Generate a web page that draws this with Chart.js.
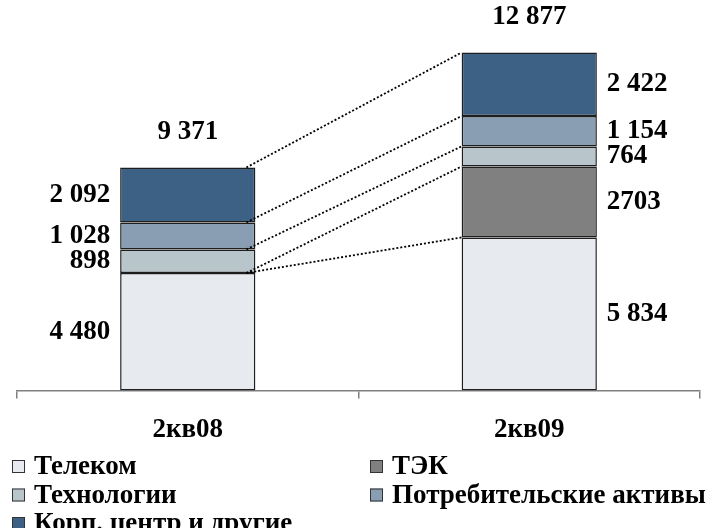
<!DOCTYPE html>
<html>
<head>
<meta charset="utf-8">
<script src="https://cdn.jsdelivr.net/npm/chart.js@4"></script>
<style>
  body { margin: 0; background: #fff; }
</style>
</head>
<body>
<canvas id="myChart" width="717" height="528"></canvas>
<script>
const quarters = ['2кв08', '2кв09'];
const telecom = [4480, 5834];
const energy = [null, 2703];
const tech = [898, 764];
const consumer = [1028, 1154];
const corporate = [2092, 2422];
const totals = [9371, 12877];

const FONT = '"Liberation Serif", "Times New Roman", serif';

function fmt(v) {
    return String(v).replace(/\B(?=(\d{3})+(?!\d))/g, ' ');
}

const labelsPlugin = {
    id: 'labels',
    afterDatasetsDraw(chart) {
        const ctx = chart.ctx;
        const sets = chart.data.datasets;
        ctx.save();

        // dotted connectors between the two stacks
        const pairs = {};
        sets.forEach((ds, i) => {
            if (ds.data[0] == null || ds.data[1] == null) return;
            const [a, b] = chart.getDatasetMeta(i).data;
            [[a.y, b.y], [a.base, b.base]].forEach(p => {
                if (p[0] >= chart.chartArea.bottom - 1 && p[1] >= chart.chartArea.bottom - 1) return;
                pairs[Math.round(p[0]) + '_' + Math.round(p[1])] = p;
            });
        });
        const m = chart.getDatasetMeta(0).data;
        const x1 = m[0].x + m[0].width / 2 - 9;
        const x2 = m[1].x - m[1].width / 2;
        ctx.strokeStyle = '#000';
        ctx.lineWidth = 1.8;
        ctx.setLineDash([2, 2]);
        Object.values(pairs).forEach(p => {
            ctx.beginPath();
            ctx.moveTo(x1, p[0]);
            ctx.lineTo(x2, p[1]);
            ctx.stroke();
        });
        ctx.setLineDash([]);

        // segment values
        ctx.font = 'bold 27px ' + FONT;
        ctx.fillStyle = '#000';
        ctx.textBaseline = 'middle';
        const tops = [Infinity, Infinity];
        sets.forEach((ds, i) => {
            chart.getDatasetMeta(i).data.forEach((bar, j) => {
                const v = ds.data[j];
                if (v == null) return;
                tops[j] = Math.min(tops[j], bar.y);
                const txt = ds.spaced === false ? String(v) : fmt(v);
                const y = (bar.y + bar.base) / 2;
                if (j === 0) {
                    ctx.textAlign = 'right';
                    ctx.fillText(txt, bar.x - bar.width / 2 - 10, y);
                } else {
                    ctx.textAlign = 'left';
                    ctx.fillText(txt, bar.x + bar.width / 2 + 10, y);
                }
            });
        });

        // totals above stacks
        ctx.textAlign = 'center';
        totals.forEach((t, j) => {
            ctx.fillText(fmt(t), m[j].x, tops[j] - 35);
        });
        ctx.restore();
    },
    afterDraw(chart) {
        // legend, two items per row
        const ctx = chart.ctx;
        ctx.save();
        ctx.font = 'bold 27px ' + FONT;
        ctx.textBaseline = 'middle';
        ctx.textAlign = 'left';
        chart.data.datasets.forEach((ds, i) => {
            const x = i % 2 === 0 ? 12 : 370;
            const y = 466.5 + Math.floor(i / 2) * 28.5;
            ctx.fillStyle = ds.backgroundColor;
            ctx.fillRect(x, y - 6.5, 13, 13);
            ctx.strokeStyle = '#333';
            ctx.lineWidth = 1;
            ctx.strokeRect(x + 0.5, y - 6, 12, 12);
            ctx.fillStyle = '#000';
            ctx.fillText(ds.label, x + 22, y + 1);
        });
        ctx.restore();
    }
};

const barStyle = { borderColor: '#1e1e1e', borderWidth: 1.5, borderSkipped: false };

const chart = new Chart(document.getElementById('myChart').getContext('2d'), {
    type: 'bar',
    data: {
        labels: quarters,
        datasets: [
            { label: 'Телеком', data: telecom, backgroundColor: '#e7eaef', ...barStyle },
            { label: 'ТЭК', data: energy, backgroundColor: '#808080', spaced: false, ...barStyle },
            { label: 'Технологии', data: tech, backgroundColor: '#b8c5cb', ...barStyle },
            { label: 'Потребительские активы', data: consumer, backgroundColor: '#899db3', ...barStyle },
            { label: 'Корп. центр и другие', data: corporate, backgroundColor: '#3d6185', ...barStyle }
        ]
    },
    options: {
        responsive: false,
        animation: false,
        layout: { padding: { top: 23, left: 17, right: 17, bottom: 67 } },
        barPercentage: 0.396,
        categoryPercentage: 1,
        plugins: { legend: { display: false }, tooltip: { enabled: false } },
        scales: {
            x: {
                stacked: true,
                offset: true,
                grid: { offset: true, drawOnChartArea: false, tickLength: 8, color: '#808080', lineWidth: 1.5 },
                border: { color: '#808080', width: 1.5 },
                ticks: { color: '#000', padding: 15, font: { family: FONT, size: 27, weight: 'bold' } }
            },
            y: { stacked: true, display: false, min: 0, max: 14000 }
        }
    },
    plugins: [labelsPlugin]
});
</script>
</body>
</html>
